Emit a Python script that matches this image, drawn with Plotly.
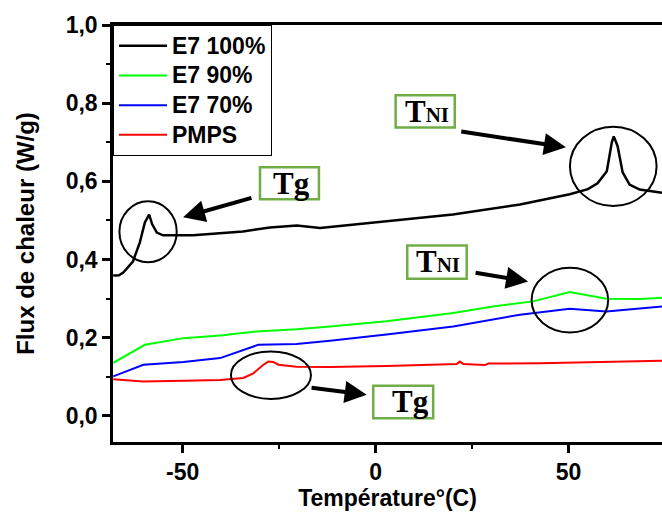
import plotly.graph_objects as go

# ---------------- data ----------------
series_names = ["E7 100%", "E7 90%", "E7 70%", "PMPS"]

e7_100_x = [-68, -66.5, -65.4, -62.9, -61.1, -59.8, -58.7, -57.9, -56.7, -55.1, -47.3,
            -34.4, -27.4, -20.4, -14.4, 3.0, 20.0, 37.4, 50.3, 55.0, 57.5, 59.9, 61.2, 61.7,
            62.7, 64.0, 65.8, 68.4, 74.2]
e7_100_y = [0.359, 0.360, 0.367, 0.395, 0.444, 0.495, 0.515, 0.490, 0.469, 0.462, 0.462,
            0.472, 0.482, 0.487, 0.481, 0.498, 0.515, 0.541, 0.567, 0.580, 0.595, 0.626, 0.700, 0.715,
            0.690, 0.623, 0.592, 0.579, 0.571]

e7_90_x = [-68, -59.8, -49.8, -40.3, -30.8, -20.5, -11.8, 2.8, 20.1, 30.4, 40.8, 50.3, 59.8, 68.5, 74.2]
e7_90_y = [0.136, 0.182, 0.199, 0.206, 0.216, 0.222, 0.229, 0.242, 0.263, 0.280, 0.293, 0.317, 0.300, 0.299, 0.302]

e7_70_x = [-68, -60.2, -49.8, -40.3, -30.4, -20.5, -11.8, 2.8, 20.1, 37.4, 50.3, 59.8, 74.2]
e7_70_y = [0.101, 0.131, 0.138, 0.148, 0.182, 0.184, 0.192, 0.208, 0.229, 0.259, 0.274, 0.267, 0.280]

pmps_x = [-68, -60.2, -49.8, -40.3, -34.3, -31.7, -29.1, -27.8, -26.5, -25.2, -20.5, -11.8,
          2.8, 21.0, 21.8, 22.7, 28.3, 29.2, 42.6, 74.2]
pmps_y = [0.094, 0.088, 0.0897, 0.092, 0.097, 0.109, 0.131, 0.139, 0.138, 0.131, 0.126, 0.125,
          0.128, 0.133, 0.139, 0.133, 0.130, 0.134, 0.135, 0.141]

x_tickvals = [-50, 0, 50]
x_ticktext = ["-50", "0", "50"]
y_tickvals = [0.0, 0.2, 0.4, 0.6, 0.8, 1.0]
y_ticktext = ["0,0", "0,2", "0,4", "0,6", "0,8", "1,0"]

x_title = "Température°(C)"
y_title = "Flux de chaleur (W/g)"

# ---------------- figure ----------------
FONT = "Liberation Sans, Arial, sans-serif"
SERIF = "Liberation Serif, Times New Roman, serif"
colors = ["#000000", "#00FF00", "#0000FF", "#FF0000"]
widths = [2.5, 2, 2, 2]

fig = go.Figure()
for i, (name, xs, ys) in enumerate(zip(series_names,
                                       [e7_100_x, e7_90_x, e7_70_x, pmps_x],
                                       [e7_100_y, e7_90_y, e7_70_y, pmps_y])):
    fig.add_trace(go.Scatter(x=xs, y=ys, mode="lines",
                             name="<span style='font-size:23px'>" + name + "</span>",
                             line=dict(color=colors[i], width=widths[i])))

# ellipses around transitions
ellipses = [(-66.4, 0.393, -51.55, 0.549),
            (50.34, 0.537, 72.8, 0.740),
            (40.4, 0.2136, 60.26, 0.379),
            (-37.5, 0.0436, -16.76, 0.165)]
for x0, y0, x1, y1 in ellipses:
    fig.add_shape(type="circle", xref="x", yref="y", x0=x0, y0=y0, x1=x1, y1=y1,
                  line=dict(color="black", width=2))

# green label boxes
boxes = [(-29.97, 0.554, -14.7, 0.636),
         (5.18, 0.7377, 20.5, 0.8205),
         (8.19, 0.351, 23.6, 0.436),
         (-0.62, -0.006, 14.9, 0.077)]
for x0, y0, x1, y1 in boxes:
    fig.add_shape(type="rect", xref="x", yref="y", x0=x0, y0=y0, x1=x1, y1=y1,
                  line=dict(color="#70AD47", width=2.5), fillcolor="rgba(0,0,0,0)")

tni = "T<span style='font-size:21px'>NI</span>"
labels = [("Tg", -21.7, 0.595), (tni, 13.3, 0.779), (tni, 16.1, 0.395), ("Tg", 8.9, 0.036)]
for txt, x, y in labels:
    fig.add_annotation(x=x, y=y, xref="x", yref="y", text="<b>" + txt + "</b>",
                       showarrow=False, font=dict(family=SERIF, size=31, color="black"))

# arrows (tail -> head)
arrows = [(-31.8, 0.559, -49.9, 0.508),
          (21.8, 0.728, 49.3, 0.687),
          (25.5, 0.367, 39.5, 0.344),
          (-17.0, 0.0726, -2.33, 0.054)]
for ax, ay, x, y in arrows:
    fig.add_annotation(x=x, y=y, ax=ax, ay=ay, xref="x", yref="y", axref="x", ayref="y",
                       text="", showarrow=True, arrowhead=2, arrowsize=1.1,
                       arrowwidth=4, arrowcolor="black", standoff=0, startstandoff=0)

fig.update_layout(
    width=662, height=521,
    margin=dict(l=113, r=0, t=25, b=79, autoexpand=False),
    paper_bgcolor="white", plot_bgcolor="white",
    font=dict(family=FONT, color="black"),
    showlegend=True,
    legend=dict(x=0, y=1, xanchor="left", yanchor="top",
                bordercolor="black", borderwidth=1, bgcolor="white",
                font=dict(family=FONT, size=20.5, color="black", weight="bold"),
                itemwidth=48),
    xaxis=dict(range=[-68.06, 74.2], showgrid=False, zeroline=False, automargin=False,
               showline=True, linecolor="black", linewidth=2.5, mirror=True,
               ticks="outside", ticklen=8, tickwidth=2.5, tickcolor="black",
               tickvals=x_tickvals, ticktext=x_ticktext,
               tickfont=dict(family=FONT, size=23, color="black", weight="bold"),
               minor=dict(ticks="outside", ticklen=4, tickwidth=2, tickcolor="black",
                          tickvals=[-25, 25]),
               title=dict(text=x_title, standoff=6,
                          font=dict(family=FONT, size=23, color="black", weight="bold"))),
    yaxis=dict(range=[-0.0667, 1.0], showgrid=False, zeroline=False, automargin=False,
               showline=True, linecolor="black", linewidth=2.5,
               ticks="outside", ticklen=8, tickwidth=2.5, tickcolor="black",
               tickvals=y_tickvals, ticktext=y_ticktext,
               tickfont=dict(family=FONT, size=23, color="black", weight="bold"),
               minor=dict(ticks="outside", ticklen=4, tickwidth=2, tickcolor="black",
                          tickvals=[0.1, 0.3, 0.5, 0.7, 0.9]),
               title=dict(text=y_title, standoff=25,
                          font=dict(family=FONT, size=24, color="black", weight="bold"))),
)

fig.write_html("out.html", config={"displayModeBar": False},
               post_script="document.body.style.margin='0';document.body.style.overflow='hidden';")
